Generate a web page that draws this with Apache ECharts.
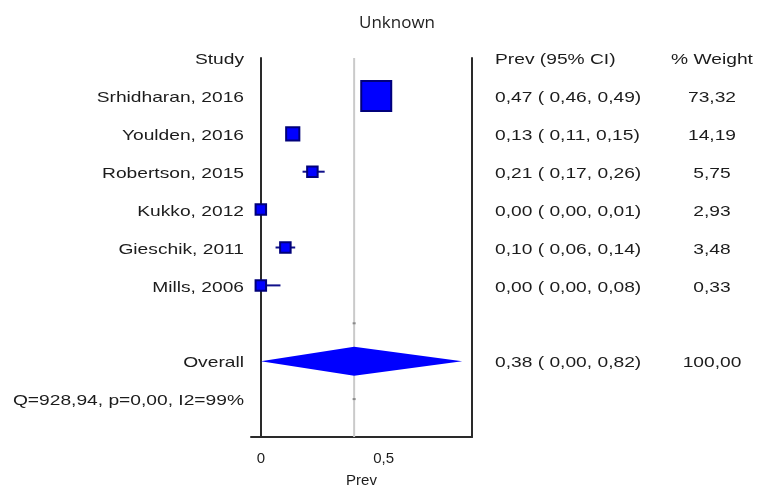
<!DOCTYPE html>
<html>
<head>
<meta charset="utf-8">
<script src="https://cdn.jsdelivr.net/npm/echarts@6/dist/echarts.min.js"></script>
<style>
  html, body { margin: 0; padding: 0; background: #ffffff; }
  #chart { width: 760px; height: 490px; }
</style>
</head>
<body>
<div id="chart"></div>
<script>
// Forest plot of pooled prevalence estimates
const studies = ['Srhidharan, 2016', 'Youlden, 2016', 'Robertson, 2015', 'Kukko, 2012', 'Gieschik, 2011', 'Mills, 2006'];
const prev = [0.47, 0.13, 0.21, 0.00, 0.10, 0.00];
const lower = [0.46, 0.11, 0.17, 0.00, 0.06, 0.00];
const upper = [0.49, 0.15, 0.26, 0.01, 0.14, 0.08];
const weight = [73.32, 14.19, 5.75, 2.93, 3.48, 0.33];

const overallPrev = 0.38;
const overallLower = 0.00;
const overallUpper = 0.82;
const overallWeight = 100.00;

const hetQ = 928.94;
const hetP = 0.00;
const hetI2 = 99;

const xTicks = [0, 0.5];
const xTickLabels = ['0', '0,5'];

// small dash marks along the pooled reference line (empty rows)
const refMarkRows = [7, 9];

// Row layout: header on row 0, studies on rows 1..6, pooled on row 8, heterogeneity on row 9
const headerRow = 0;
const overallRow = 8;
const hetRow = 9;

const fmt = v => v.toFixed(2).replace('.', ',');
const TEXT_FONT = '15px "Liberation Sans", Arial, sans-serif';
const TEXT_COLOR = '#1c1c1c';
const STRETCH = 1.28;

const studyData = studies.map((s, i) => [prev[i], lower[i], upper[i], weight[i], i + 1]);
const maxW = Math.max(...weight);

const chart = echarts.init(document.getElementById('chart'), null, { renderer: 'canvas' });

const yAxisBase = {
  type: 'value', min: 0, max: 10, inverse: true,
  axisLine: { show: true, lineStyle: { color: '#2a2a2a', width: 2 } },
  axisTick: { show: false }, axisLabel: { show: false }, splitLine: { show: false }
};

chart.setOption({
  animation: false,
  backgroundColor: '#ffffff',
  title: {
    text: 'Unknown', left: 392, top: 10, textAlign: 'center',
    textStyle: { fontFamily: '"Open Sans", "Noto Sans", sans-serif', fontSize: 17, fontWeight: 'normal', color: '#222' }
  },
  grid: { left: 251, right: 288, top: 58, bottom: 53, containLabel: false, outerBoundsMode: 'none' },
  xAxis: {
    type: 'value', min: -0.04, max: 0.86,
    axisLine: { show: true, onZero: false, lineStyle: { color: '#2a2a2a', width: 2 } },
    axisTick: { show: false },
    splitLine: { show: false },
    axisLabel: {
      customValues: xTicks, margin: 14,
      fontFamily: '"Liberation Sans", Arial, sans-serif', fontSize: 15, color: TEXT_COLOR,
      formatter: v => xTickLabels[xTicks.indexOf(v)]
    },
    name: 'Prev', nameLocation: 'middle', nameGap: 36,
    nameTextStyle: { fontFamily: '"Liberation Sans", Arial, sans-serif', fontSize: 15, color: TEXT_COLOR }
  },
  yAxis: [
    Object.assign({ position: 'left' }, yAxisBase),
    Object.assign({ position: 'right' }, yAxisBase)
  ],
  series: [
    {
      // reference line at the pooled estimate
      type: 'custom',
      data: [[overallPrev]],
      z: 1,
      renderItem: (params, api) => {
        const top = api.coord([api.value(0), 0]);
        const bot = api.coord([api.value(0), 10]);
        return {
          type: 'line',
          shape: { x1: top[0], y1: top[1], x2: bot[0], y2: bot[1] },
          style: { stroke: '#cacaca', lineWidth: 2 }
        };
      }
    },
    {
      // tiny dash marks on the reference line
      type: 'custom',
      data: refMarkRows.map(r => [overallPrev, r]),
      z: 2,
      renderItem: (params, api) => {
        const c = api.coord([api.value(0), api.value(1)]);
        return {
          type: 'rect',
          shape: { x: c[0] - 1.5, y: c[1] - 1, width: 3, height: 2 },
          style: { fill: '#8a8a8a' }
        };
      }
    },
    {
      // study estimates: confidence interval whisker and weighted square
      type: 'custom',
      data: studyData,
      z: 3,
      renderItem: (params, api) => {
        const row = api.value(4);
        const c = api.coord([api.value(0), row]);
        const l = api.coord([api.value(1), row]);
        const h = api.coord([api.value(2), row]);
        const size = Math.max(10.5, 30 * Math.sqrt(api.value(3) / maxW));
        return {
          type: 'group',
          children: [
            {
              type: 'line',
              shape: { x1: l[0], y1: l[1], x2: h[0], y2: h[1] },
              style: { stroke: '#10108a', lineWidth: 2 }
            },
            {
              type: 'rect',
              shape: { x: c[0] - size / 2, y: c[1] - size / 2, width: size, height: size },
              style: { fill: '#0000ff', stroke: '#00007a', lineWidth: 2 }
            }
          ]
        };
      }
    },
    {
      // pooled estimate diamond
      type: 'custom',
      data: [[overallPrev, overallLower, overallUpper, overallRow]],
      z: 3,
      renderItem: (params, api) => {
        const row = api.value(3);
        const c = api.coord([api.value(0), row]);
        const l = api.coord([api.value(1), row]);
        const h = api.coord([api.value(2), row]);
        const half = 14.5;
        return {
          type: 'polygon',
          shape: { points: [[l[0], l[1]], [c[0], c[1] - half], [h[0], h[1]], [c[0], c[1] + half]] },
          style: { fill: '#0000ff' }
        };
      }
    }
  ]
});

// Text columns placed on the row positions of the y scale
const rowY = r => chart.convertToPixel({ yAxisIndex: 0 }, r) + 2;
const texts = [];
function addText(txt, x, row, align) {
  texts.push({
    type: 'text', x: x, y: rowY(row), scaleX: STRETCH, z: 10, silent: true,
    style: { text: txt, x: 0, y: 0, font: TEXT_FONT, fill: TEXT_COLOR, align: align, verticalAlign: 'middle' }
  });
}

const leftX = 244;
const ciX = 495;
const wX = 712;

addText('Study', leftX, headerRow, 'right');
addText('Prev (95% CI)', ciX, headerRow, 'left');
addText('% Weight', wX, headerRow, 'center');

studies.forEach((s, i) => {
  const row = i + 1;
  addText(s, leftX, row, 'right');
  addText(fmt(prev[i]) + ' ( ' + fmt(lower[i]) + ', ' + fmt(upper[i]) + ')', ciX, row, 'left');
  addText(fmt(weight[i]), wX, row, 'center');
});

addText('Overall', leftX, overallRow, 'right');
addText(fmt(overallPrev) + ' ( ' + fmt(overallLower) + ', ' + fmt(overallUpper) + ')', ciX, overallRow, 'left');
addText(fmt(overallWeight), wX, overallRow, 'center');

addText('Q=' + fmt(hetQ) + ', p=' + fmt(hetP) + ', I2=' + hetI2 + '%', leftX, hetRow, 'right');

chart.setOption({ graphic: texts });
</script>
</body>
</html>
